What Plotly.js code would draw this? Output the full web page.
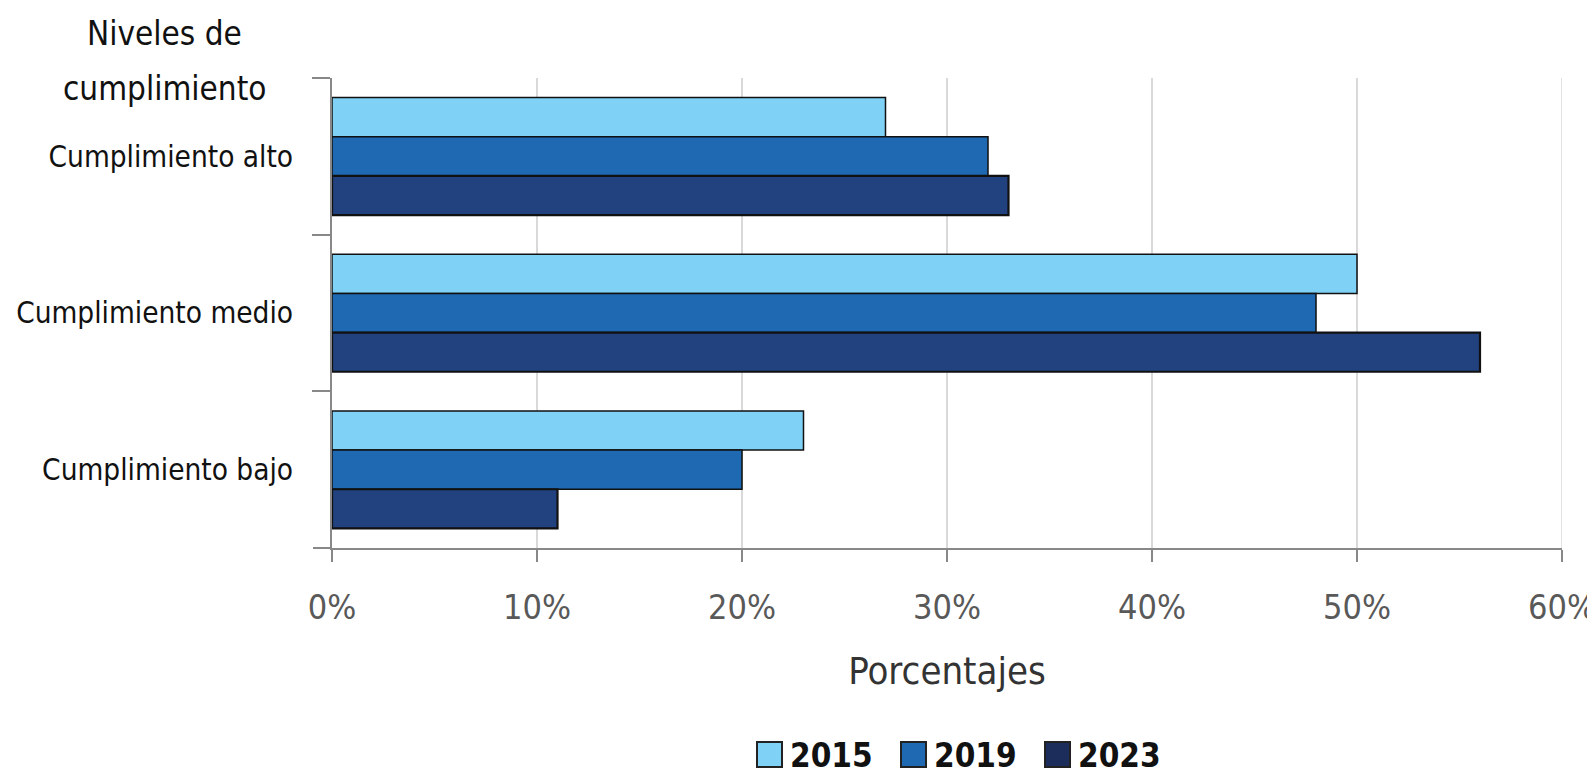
<!DOCTYPE html>
<html>
<head>
<meta charset="utf-8">
<script src="https://cdn.plot.ly/plotly-3.0.1.min.js"></script>
<style>
html,body{margin:0;padding:0;background:#fff;}
#chart{width:1587px;height:773px;}
</style>
</head>
<body>
<div id="chart"></div>
<script>
const categories = ["Cumplimiento alto", "Cumplimiento medio", "Cumplimiento bajo"];
const years = ["2015", "2019", "2023"];
const values2015 = [27, 50, 23];
const values2019 = [32, 48, 20];
const values2023 = [33, 56, 11];
const tickValues = [0, 10, 20, 30, 40, 50, 60];

const FONT = "'Liberation Sans Narrow', 'DejaVu Sans Condensed', 'Arial Narrow', sans-serif";
const colors = ["#7FD2F5", "#1F69B3", "#21427F"];
const legendColors = ["#7FD2F5", "#1F69B3", "#1C2D5C"];
const lineWidths = [1.5, 1.5, 2.2];
const series = [values2015, values2019, values2023];

const W = 1587, H = 773;
const M = {l: 332, r: 25, t: 78, b: 225};
const PW = W - M.l - M.r, PH = H - M.t - M.b;
const px = x => (x - M.l) / PW;
const py = y => (H - M.b - y) / PH;

const traces = series.map((vals, i) => ({
  type: "bar",
  orientation: "h",
  name: years[i],
  y: categories,
  x: vals,
  marker: {color: colors[i], line: {color: "#111111", width: lineWidths[i]}},
  hoverinfo: "x+y+name"
}));

// manual legend (larger swatches than Plotly's built-in legend)
const legendSwatchX = [757, 901, 1045];
const shapes = [];
const annotations = [];
years.forEach((yr, i) => {
  const x0 = legendSwatchX[i];
  shapes.push({type: "rect", xref: "paper", yref: "paper",
    x0: px(x0), x1: px(x0 + 25), y0: py(767), y1: py(742),
    fillcolor: legendColors[i], line: {color: "#222222", width: 2}});
  annotations.push({text: yr, xref: "paper", yref: "paper",
    x: px(x0 + 31), y: py(755), xanchor: "left", yanchor: "middle", showarrow: false,
    font: {family: FONT, size: 33, color: "#111111", weight: "bold"}});
});
// gridline at the right edge (60%)
shapes.push({type: "line", xref: "x", yref: "paper", x0: 60, x1: 60, y0: 0, y1: 1,
  line: {color: "#d9d9d9", width: 1.5}, layer: "below"});
// bottom boundary tick of the category axis
shapes.push({type: "line", xref: "paper", yref: "paper", x0: px(313), x1: 0, y0: 0, y1: 0,
  line: {color: "#888888", width: 2}});

annotations.push(
  {text: "Niveles de", xref: "paper", yref: "paper", x: px(164), y: py(33), xanchor: "center", yanchor: "middle", showarrow: false, font: {family: FONT, size: 33, color: "#111111"}},
  {text: "cumplimiento", xref: "paper", yref: "paper", x: px(164), y: py(88), xanchor: "center", yanchor: "middle", showarrow: false, font: {family: FONT, size: 33, color: "#111111"}}
);

const layout = {
  width: W,
  height: H,
  margin: M,
  paper_bgcolor: "#ffffff",
  plot_bgcolor: "#ffffff",
  font: {family: FONT, color: "#111111"},
  barmode: "group",
  bargap: 0.25,
  bargroupgap: 0,
  showlegend: false,
  xaxis: {
    range: [0, 60],
    tickvals: tickValues,
    ticktext: tickValues.map(v => v + "%"),
    showgrid: true,
    gridcolor: "#d9d9d9",
    gridwidth: 1.5,
    zeroline: false,
    showline: true,
    linecolor: "#888888",
    linewidth: 2,
    ticks: "outside",
    ticklen: 12,
    tickwidth: 2,
    tickcolor: "#888888",
    ticklabelstandoff: 16,
    ticklabeloverflow: "allow",
    tickfont: {family: FONT, size: 34, color: "#595959"},
    title: {text: "Porcentajes", font: {family: FONT, size: 38, color: "#333333"}, standoff: 32},
    automargin: false,
    fixedrange: true
  },
  yaxis: {
    type: "category",
    autorange: "reversed",
    tickson: "boundaries",
    showgrid: false,
    zeroline: false,
    showline: true,
    linecolor: "#888888",
    linewidth: 2,
    ticks: "outside",
    ticklen: 18,
    tickwidth: 2,
    tickcolor: "#888888",
    ticklabelstandoff: 31,
    tickfont: {family: FONT, size: 29.5, color: "#111111"},
    automargin: false,
    fixedrange: true
  },
  shapes: shapes,
  annotations: annotations
};

Plotly.newPlot("chart", traces, layout, {displayModeBar: false, staticPlot: true});
</script>
</body>
</html>
